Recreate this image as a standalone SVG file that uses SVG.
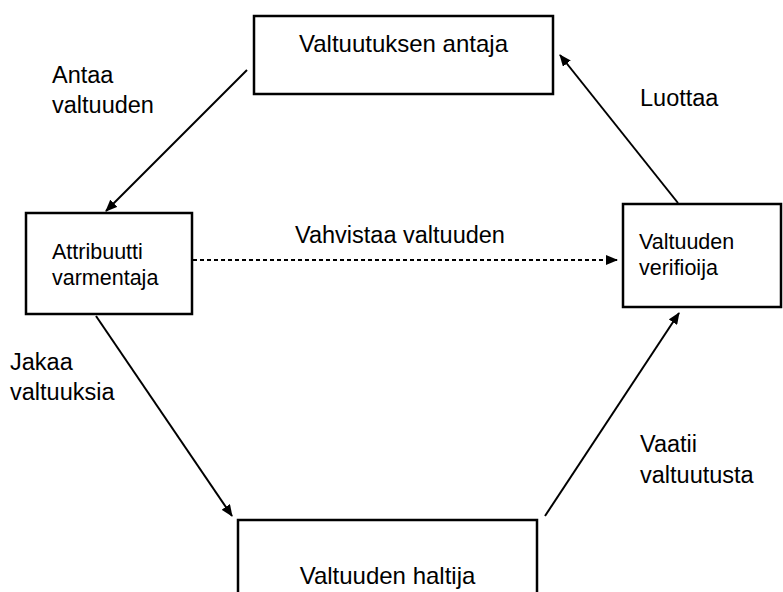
<svg xmlns="http://www.w3.org/2000/svg" width="783" height="592" viewBox="0 0 783 592">
  <style>
    .box { fill: #ffffff; stroke: #000000; stroke-width: 2.5; }
    .big { font-family: "Liberation Sans", Arial, sans-serif; font-size: 24px; fill: #000000; }
    .small { font-family: "Liberation Sans", Arial, sans-serif; font-size: 21.5px; fill: #000000; }
    .lbl { font-family: "Liberation Sans", Arial, sans-serif; font-size: 23.5px; fill: #000000; }
    .edge { fill: none; stroke: #000000; stroke-width: 2; }
    .dashed { stroke-dasharray: 4 3; }
  </style>
  <defs>
    <marker id="arrow" viewBox="0 0 12 10" refX="11" refY="5" markerWidth="12" markerHeight="10" markerUnits="userSpaceOnUse" orient="auto">
      <path d="M0,0 L12,5 L0,10 Z" fill="#000000"/>
    </marker>
  </defs>
  <rect width="783" height="592" fill="#ffffff"/>

  <g id="connectors">
    <line class="edge" x1="247" y1="70" x2="106" y2="211" marker-end="url(#arrow)"/>
    <line class="edge dashed" x1="193" y1="260" x2="617" y2="260" marker-end="url(#arrow)"/>
    <line class="edge" x1="96" y1="316" x2="232" y2="516" marker-end="url(#arrow)"/>
    <line class="edge" x1="545" y1="516" x2="679" y2="313" marker-end="url(#arrow)"/>
    <line class="edge" x1="678" y1="203" x2="560" y2="55" marker-end="url(#arrow)"/>
  </g>

  <g id="node-valtuutuksen-antaja">
    <rect class="box" x="254" y="16" width="299" height="78"/>
    <text class="big" x="403.5" y="52" text-anchor="middle">Valtuutuksen antaja</text>
  </g>

  <g id="node-attribuutti-varmentaja">
    <rect class="box" x="26" y="213" width="166" height="101"/>
    <text class="small" x="52" y="259">Attribuutti</text>
    <text class="small" x="52" y="285">varmentaja</text>
  </g>

  <g id="node-valtuuden-verifioija">
    <rect class="box" x="623" y="204" width="158" height="103"/>
    <text class="small" x="639" y="249">Valtuuden</text>
    <text class="small" x="639" y="275">verifioija</text>
  </g>

  <g id="node-valtuuden-haltija">
    <rect class="box" x="238" y="520" width="299" height="90"/>
    <text class="big" x="387.5" y="584" text-anchor="middle">Valtuuden haltija</text>
  </g>

  <g id="edge-labels">
    <text class="lbl" x="52" y="83">Antaa</text>
    <text class="lbl" x="52" y="113">valtuuden</text>
    <text class="lbl" x="640" y="106">Luottaa</text>
    <text class="lbl" x="295" y="243">Vahvistaa valtuuden</text>
    <text class="lbl" x="10" y="370">Jakaa</text>
    <text class="lbl" x="10" y="400">valtuuksia</text>
    <text class="lbl" x="640" y="452">Vaatii</text>
    <text class="lbl" x="640" y="483">valtuutusta</text>
  </g>
</svg>
